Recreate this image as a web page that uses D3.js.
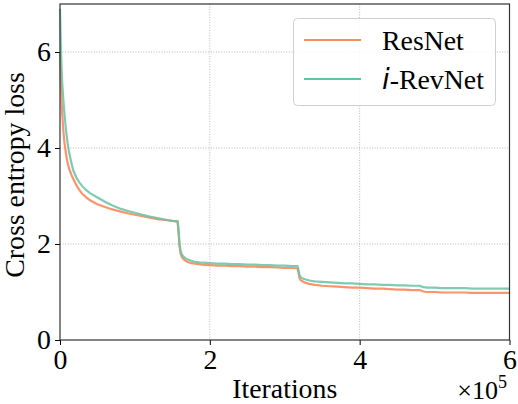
<!DOCTYPE html>
<html><head><meta charset="utf-8">
<script src="https://cdn.jsdelivr.net/npm/d3@7"></script>
<style>body{margin:0;background:#fff}svg{display:block}</style>
</head><body>
<script>
// iterations in units of 1e5
const iterations = [0, 0.01, 0.02, 0.03, 0.045, 0.06, 0.08, 0.1, 0.12, 0.15, 0.18, 0.22, 0.26, 0.3, 0.35, 0.4, 0.5, 0.6, 0.7, 0.8, 0.9, 1.0, 1.1, 1.2, 1.3, 1.4, 1.5, 1.57,
  1.585, 1.595, 1.61, 1.63, 1.66, 1.7, 1.75, 1.8, 1.9, 2.0, 2.1, 2.2, 2.3, 2.4, 2.5, 2.6, 2.7, 2.8, 2.9, 3.0, 3.1, 3.17,
  3.185, 3.195, 3.21, 3.24, 3.28, 3.33, 3.4, 3.5, 3.6, 3.7, 3.8, 3.9, 4.0, 4.1, 4.2, 4.3, 4.4, 4.5, 4.6, 4.7, 4.8,
  4.85, 4.9, 5.0, 5.1, 5.2, 5.3, 5.4, 5.5, 5.6, 5.7, 5.8, 5.9, 6.0];
const resnet = [6.0, 5.4, 5.0, 4.7, 4.35, 4.1, 3.88, 3.7, 3.58, 3.45, 3.35, 3.22, 3.12, 3.04, 2.97, 2.91, 2.83, 2.77, 2.72, 2.68, 2.64, 2.61, 2.58, 2.55, 2.52, 2.5, 2.48, 2.47,
  2.2, 1.95, 1.8, 1.72, 1.67, 1.63, 1.6, 1.59, 1.57, 1.56, 1.55, 1.55, 1.54, 1.54, 1.53, 1.53, 1.52, 1.52, 1.51, 1.5, 1.5, 1.49,
  1.4, 1.3, 1.25, 1.22, 1.19, 1.17, 1.15, 1.13, 1.12, 1.11, 1.1, 1.09, 1.09, 1.08, 1.07, 1.07, 1.06, 1.05, 1.05, 1.04, 1.04,
  1.01, 1.0, 1.0, 0.99, 0.99, 0.99, 0.99, 0.98, 0.98, 0.98, 0.98, 0.98, 0.98];
const irevnet = [6.9, 6.2, 5.7, 5.35, 5.0, 4.7, 4.38, 4.12, 3.92, 3.7, 3.52, 3.38, 3.28, 3.2, 3.12, 3.06, 2.97, 2.88, 2.8, 2.74, 2.69, 2.65, 2.61, 2.57, 2.54, 2.51, 2.48, 2.47,
  2.25, 2.0, 1.85, 1.77, 1.72, 1.68, 1.65, 1.63, 1.61, 1.6, 1.59, 1.59, 1.58, 1.58, 1.57, 1.57, 1.56, 1.56, 1.55, 1.55, 1.54, 1.54,
  1.45, 1.36, 1.31, 1.28, 1.26, 1.24, 1.22, 1.21, 1.2, 1.19, 1.18, 1.18, 1.17, 1.16, 1.16, 1.15, 1.15, 1.14, 1.14, 1.13, 1.13,
  1.1, 1.09, 1.09, 1.08, 1.08, 1.08, 1.08, 1.07, 1.07, 1.07, 1.07, 1.07, 1.07];
const xTicks = [0, 2, 4, 6];
const yTicks = [0, 2, 4, 6];
const seriesNames = ["ResNet", "-RevNet"];

const W = 518, H = 404;
const M = {left: 60, right: 509.5, top: 4, bottom: 340};
const FS = 27.8;
const svg = d3.select("body").append("svg").attr("width", W).attr("height", H);
const x = d3.scaleLinear().domain([0, 6]).range([M.left, M.right]);
const y = d3.scaleLinear().domain([0, 7]).range([M.bottom, M.top]);
const serif = "'Liberation Serif','Times New Roman',serif";

// grid
const g = svg.append("g");
g.selectAll(".gx").data(xTicks.filter(d => d > 0 && d < 6)).join("line")
  .attr("x1", d => x(d)).attr("x2", d => x(d)).attr("y1", M.top).attr("y2", M.bottom)
  .attr("stroke", "#b0b0b0").attr("stroke-width", 0.9).attr("stroke-dasharray", "1,1.6");
g.selectAll(".gy").data(yTicks.filter(d => d > 0)).join("line")
  .attr("y1", d => y(d)).attr("y2", d => y(d)).attr("x1", M.left).attr("x2", M.right)
  .attr("stroke", "#b0b0b0").attr("stroke-width", 0.9).attr("stroke-dasharray", "1,1.6");

// lines
const line = d3.line().x((d, i) => x(iterations[i])).y(d => y(d));
svg.append("path").datum(resnet).attr("d", line).attr("fill", "none")
  .attr("stroke", "#fc8d62").attr("stroke-width", 2.2).attr("stroke-opacity", 0.95);
svg.append("path").datum(irevnet).attr("d", line).attr("fill", "none")
  .attr("stroke", "#66c2a5").attr("stroke-width", 2.2).attr("stroke-opacity", 0.85);

// axes
const xAxis = svg.append("g").attr("transform", `translate(0,${M.bottom})`)
  .call(d3.axisBottom(x).tickValues(xTicks).tickSize(5).tickPadding(4).tickFormat(d3.format("d")));
const yAxis = svg.append("g").attr("transform", `translate(${M.left},0)`)
  .call(d3.axisLeft(y).tickValues(yTicks).tickSize(5).tickPadding(4).tickFormat(d3.format("d")));
[xAxis, yAxis].forEach(a => {
  a.select(".domain").remove();
  a.attr("font-family", serif).attr("font-size", FS);
  a.selectAll("text").style("font-family", serif).style("font-size", FS + "px").attr("fill", "#000");
  a.selectAll("line").attr("stroke", "#000").attr("stroke-width", 1);
});
// frame
svg.append("rect").attr("x", M.left).attr("y", M.top).attr("width", M.right - M.left).attr("height", M.bottom - M.top)
  .attr("fill", "none").attr("stroke", "#333").attr("stroke-width", 1.2);

// labels
svg.append("text").attr("x", (M.left + M.right) / 2).attr("y", 398).attr("text-anchor", "middle")
  .attr("font-family", serif).attr("font-size", FS).text("Iterations");
const mult = svg.append("text").attr("x", 507).attr("y", 399).attr("text-anchor", "end")
  .attr("font-family", serif).attr("font-size", 26);
mult.append("tspan").text("×10");
mult.append("tspan").attr("dy", -11).attr("font-size", 18).text("5");
svg.append("text").attr("transform", `translate(24,${(M.top + M.bottom) / 2 + 3}) rotate(-90)`)
  .attr("text-anchor", "middle").attr("font-family", serif).attr("font-size", FS).text("Cross entropy loss");

// legend
const lg = svg.append("g");
lg.append("rect").attr("x", 293.5).attr("y", 18.5).attr("width", 202).attr("height", 87).attr("rx", 4)
  .attr("fill", "#fff").attr("fill-opacity", 0.85).attr("stroke", "#d0d0d0").attr("stroke-width", 1);
const colors = ["#fc8d62", "#66c2a5"];
seriesNames.forEach((n, i) => {
  const yy = 40 + i * 39;
  lg.append("line").attr("x1", 304).attr("x2", 361).attr("y1", yy).attr("y2", yy)
    .attr("stroke", colors[i]).attr("stroke-width", 2.2);
  const t = lg.append("text").attr("x", 382).attr("y", yy + 10).attr("font-family", serif).attr("font-size", FS);
  if (i === 1) {
    t.append("tspan").attr("font-family", "'DejaVu Sans',sans-serif").attr("font-style", "italic").text("i");
  }
  t.append("tspan").text(n);
});
</script>
</body></html>
